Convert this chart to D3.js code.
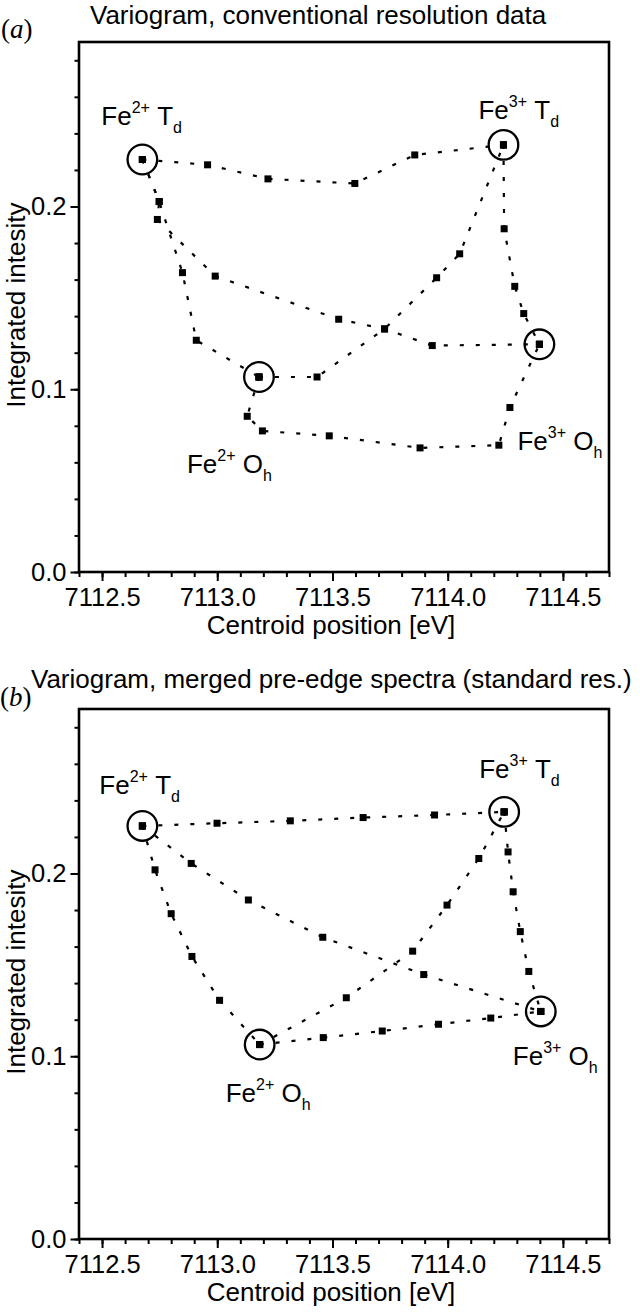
<!DOCTYPE html>
<html><head><meta charset="utf-8">
<script src="https://cdn.jsdelivr.net/npm/d3@7"></script>
<style>body{margin:0;background:#fff} svg{display:block}</style>
</head><body><svg id="c" width="640" height="1313"></svg>
<script>
// ---------- shared text ----------
const titles = ["Variogram, conventional resolution data", "Variogram, merged pre-edge spectra (standard res.)"];
const panelTags = ["a", "b"];
const xTickValues = [7112.5, 7113.0, 7113.5, 7114.0, 7114.5];
const xTickLabels = ["7112.5", "7113.0", "7113.5", "7114.0", "7114.5"];
const yTickValues = [0.0, 0.1, 0.2];
const yTickLabels = ["0.0", "0.1", "0.2"];
const xLabel = "Centroid position [eV]";
const yLabel = "Integrated intesity";
const endpointLabels = [["Fe","2+","T","d"], ["Fe","3+","T","d"], ["Fe","2+","O","h"], ["Fe","3+","O","h"]];

// ---------- panel (a): conventional resolution ----------
const aEndpoints = [[7112.675, 0.2257], [7114.242, 0.2337], [7113.181, 0.1067], [7114.398, 0.1246]];
const aTd2Td3 = [[7112.675, 0.2257], [7112.958, 0.2228], [7113.220, 0.2151], [7113.597, 0.2126], [7113.857, 0.2282], [7114.242, 0.2337]];
const aTd2Oh2 = [[7112.675, 0.2257], [7112.748, 0.2027], [7112.849, 0.1638], [7112.909, 0.1268], [7113.181, 0.1067]];
const aTd2Oh3 = [[7112.675, 0.2257], [7112.748, 0.2027], [7112.740, 0.1929], [7112.991, 0.1619], [7113.527, 0.1383], [7113.726, 0.1330], [7113.933, 0.1239], [7114.398, 0.1246]];
const aOh2Td3 = [[7113.181, 0.1067], [7113.433, 0.1067], [7113.726, 0.1330], [7113.952, 0.1610], [7114.052, 0.1741], [7114.242, 0.2337]];
const aTd3Oh3 = [[7114.242, 0.2337], [7114.245, 0.1878], [7114.291, 0.1563], [7114.330, 0.1414], [7114.398, 0.1246]];
const aOh2Oh3 = [[7113.181, 0.1067], [7113.130, 0.0852], [7113.196, 0.0772], [7113.486, 0.0745], [7113.880, 0.0679], [7114.222, 0.0694], [7114.270, 0.0900], [7114.398, 0.1246]];

// ---------- panel (b): merged pre-edge spectra ----------
const bEndpoints = [[7112.675, 0.2260], [7114.245, 0.2337], [7113.184, 0.1064], [7114.404, 0.1245]];
const bTd2Td3 = [[7112.675, 0.2260], [7112.999, 0.2275], [7113.317, 0.2288], [7113.633, 0.2306], [7113.943, 0.2320], [7114.245, 0.2337]];
const bTd2Oh2 = [[7112.675, 0.2260], [7112.730, 0.2020], [7112.800, 0.1780], [7112.890, 0.1546], [7113.010, 0.1306], [7113.184, 0.1064]];
const bTd2Oh3 = [[7112.675, 0.2260], [7112.887, 0.2055], [7113.135, 0.1855], [7113.458, 0.1651], [7113.896, 0.1447], [7114.404, 0.1245]];
const bOh2Td3 = [[7113.184, 0.1064], [7113.560, 0.1320], [7113.848, 0.1575], [7113.997, 0.1827], [7114.135, 0.2082], [7114.245, 0.2337]];
const bTd3Oh3 = [[7114.245, 0.2337], [7114.262, 0.2118], [7114.284, 0.1900], [7114.315, 0.1682], [7114.352, 0.1464], [7114.404, 0.1245]];
const bOh2Oh3 = [[7113.184, 0.1064], [7113.460, 0.1102], [7113.716, 0.1138], [7113.960, 0.1175], [7114.187, 0.1209], [7114.404, 0.1245]];

const panels = [
  { endpoints: aEndpoints, paths: [aTd2Td3, aTd2Oh2, aTd2Oh3, aOh2Td3, aTd3Oh3, aOh2Oh3] },
  { endpoints: bEndpoints, paths: [bTd2Td3, bTd2Oh2, bTd2Oh3, bOh2Td3, bTd3Oh3, bOh2Oh3] }
];

// ---------- layout (pixels, not data) ----------
const layout = [
  { y0: 572, titleX: 90, titleY: 24, tagX: 1, tagY: 38,
    labelOff: [[-41, -35], [-25, -26], [-72, 96], [-22, 106]] },
  { y0: 1239, titleX: 31, titleY: 688, tagX: 0, tagY: 706,
    labelOff: [[-43, -32], [-25, -34], [-34, 57], [-28, 54]] }
];
const FONT = "'Liberation Sans', Arial, sans-serif";

const svg = d3.select("#c");

panels.forEach((p, i) => {
  const L = layout[i];
  const g = svg.append("g");
  const x = d3.scaleLinear().domain([7112.4, 7114.7]).range([79, 609]);
  const y = d3.scaleLinear().domain([0, 0.29]).range([L.y0, L.y0 - 530]);

  // title & tag
  g.append("text").attr("x", L.titleX).attr("y", L.titleY)
    .attr("font-family", FONT).attr("font-size", 26).text(titles[i]);
  const tag = g.append("text").attr("x", L.tagX).attr("y", L.tagY)
    .attr("font-family", "'Liberation Serif', 'Times New Roman', serif").attr("font-size", 27);
  tag.append("tspan").text("(");
  tag.append("tspan").attr("font-style", "italic").text(panelTags[i]);
  tag.append("tspan").text(")");

  // minor ticks
  const xMinor = g.append("g").attr("transform", `translate(0,${L.y0})`)
    .call(d3.axisBottom(x).ticks(23).tickSize(5).tickFormat(""));
  const yMinor = g.append("g").attr("transform", `translate(79,0)`)
    .call(d3.axisLeft(y).ticks(14).tickSize(4.5).tickFormat(""));
  // major ticks
  const xMajor = g.append("g").attr("transform", `translate(0,${L.y0})`)
    .call(d3.axisBottom(x).tickValues(xTickValues).tickSize(9).tickPadding(7)
      .tickFormat((d, k) => xTickLabels[k]));
  const yMajor = g.append("g").attr("transform", `translate(79,0)`)
    .call(d3.axisLeft(y).tickValues(yTickValues).tickSize(8.5).tickPadding(4)
      .tickFormat((d, k) => yTickLabels[k]));
  [xMinor, yMinor, xMajor, yMajor].forEach(a => {
    a.select(".domain").remove();
    a.selectAll("line").attr("stroke", "#000").attr("stroke-width", 2);
    a.selectAll("text").attr("font-family", FONT).attr("font-size", 25.5).attr("fill", "#000");
  });

  // frame
  g.append("rect").attr("x", x(7112.4)).attr("y", y(0.29))
    .attr("width", x(7114.7) - x(7112.4)).attr("height", y(0) - y(0.29))
    .attr("fill", "none").attr("stroke", "#000").attr("stroke-width", 2.6);

  // axis labels
  g.append("text").attr("x", 331).attr("y", L.y0 + 62).attr("text-anchor", "middle")
    .attr("font-family", FONT).attr("font-size", 26).text(xLabel);
  g.append("text").attr("transform", `translate(25,${y(0.146)}) rotate(-90)`)
    .attr("text-anchor", "middle").attr("font-family", FONT).attr("font-size", 26).text(yLabel);

  // dotted paths
  const line = d3.line().x(d => x(d[0])).y(d => y(d[1]));
  g.selectAll(".pth").data(p.paths).enter().append("path")
    .attr("d", line).attr("fill", "none").attr("stroke", "#000")
    .attr("stroke-width", 2.2).attr("stroke-dasharray", "4,12");

  // square markers
  const pts = p.paths.flat();
  g.selectAll(".sq").data(pts).enter().append("rect")
    .attr("x", d => x(d[0]) - 3.5).attr("y", d => y(d[1]) - 3.5)
    .attr("width", 7).attr("height", 7).attr("fill", "#000");

  // endpoint circles
  g.selectAll(".ci").data(p.endpoints).enter().append("circle")
    .attr("cx", d => x(d[0])).attr("cy", d => y(d[1])).attr("r", 14.8)
    .attr("fill", "none").attr("stroke", "#000").attr("stroke-width", 2.3);

  // endpoint labels
  p.endpoints.forEach((e, k) => {
    const lab = endpointLabels[k];
    const t = g.append("text")
      .attr("x", x(e[0]) + L.labelOff[k][0]).attr("y", y(e[1]) + L.labelOff[k][1])
      .attr("font-family", FONT).attr("font-size", 26);
    t.append("tspan").text(lab[0]);
    t.append("tspan").attr("font-size", 16).attr("dy", -12).text(lab[1]);
    t.append("tspan").attr("dy", 12).text("\u00a0" + lab[2]);
    t.append("tspan").attr("font-size", 16).attr("dy", 8).text(lab[3]);
  });
});
</script></body></html>
